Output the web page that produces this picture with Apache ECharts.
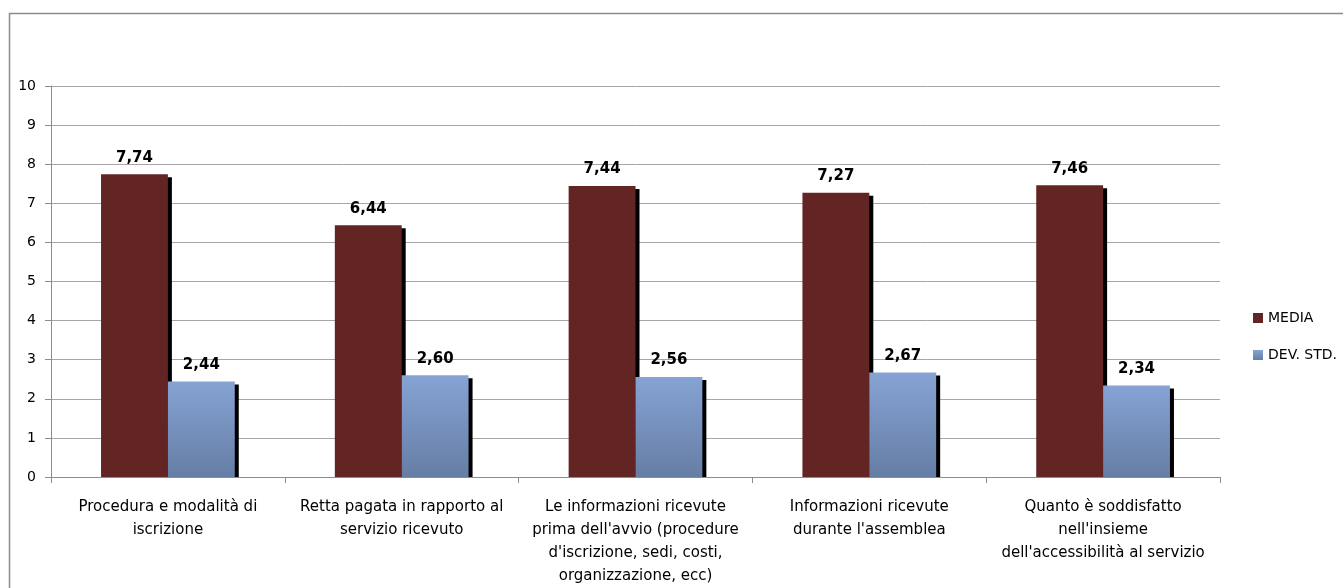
<!DOCTYPE html>
<html>
<head>
<meta charset="utf-8">
<script src="https://cdn.jsdelivr.net/npm/echarts@6/dist/echarts.min.js"></script>
<style>
  html, body { margin: 0; padding: 0; background: #fff; }
  #chart { width: 1343px; height: 588px; }
</style>
</head>
<body>
<div id="chart"></div>
<script>
// Survey items (x axis)
const categories = [
  "Procedura e modalità di\niscrizione",
  "Retta pagata in rapporto al\nservizio ricevuto",
  "Le informazioni ricevute\nprima dell'avvio (procedure\nd'iscrizione, sedi, costi,\norganizzazione, ecc)",
  "Informazioni ricevute\ndurante l'assemblea",
  "Quanto è soddisfatto\nnell'insieme\ndell'accessibilità al servizio"
];
// Mean score and standard deviation per item
const media = [7.74, 6.44, 7.44, 7.27, 7.46];
const devStd = [2.44, 2.60, 2.56, 2.67, 2.34];
const seriesNames = ["MEDIA", "DEV. STD."];

const FONT = "'DejaVu Sans', 'Noto Sans', sans-serif";
const fmt = v => v.toFixed(2).replace('.', ',');

const mediaColor = '#632523';
const devColor = new echarts.graphic.LinearGradient(0, 0, 0, 1, [
  { offset: 0, color: '#86a3d4' },
  { offset: 1, color: '#667ea5' }
]);

// Two side-by-side bars per category, each with a hard black drop shadow
// that stops at the baseline.
const BAR_RATIO = 0.286;
function barRenderer(slot, fill) {
  return function (params, api) {
    const i = api.value(0);
    const v = api.value(1);
    const band = api.size([1, 0])[0];
    const w = band * BAR_RATIO;
    const base = api.coord([i, 0]);
    const top = api.coord([i, v]);
    const x0 = base[0] - w + slot * w;
    const h = base[1] - top[1];
    return {
      type: 'group',
      children: [
        { type: 'rect', shape: { x: x0 + 4, y: top[1] + 3, width: w, height: h - 3 },
          style: { fill: '#000' } },
        { type: 'rect', shape: { x: x0, y: top[1], width: w, height: h },
          style: { fill: fill } },
        { type: 'text', x: x0 + w / 2, y: top[1] - 9,
          style: { text: fmt(v), align: 'center', verticalAlign: 'bottom',
                   fill: '#000', font: 'bold 15px ' + FONT } }
      ]
    };
  };
}

const chart = echarts.init(document.getElementById('chart'), null, { renderer: 'canvas' });
chart.setOption({
  animation: false,
  backgroundColor: '#fff',
  graphic: [{
    type: 'rect', silent: true, z: -1,
    shape: { x: 9.5, y: 13.5, width: 1400, height: 700 },
    style: { fill: 'none', stroke: '#8c8c8c', lineWidth: 1.5 }
  }],
  grid: { left: 51, right: 123, top: 86, bottom: 108, containLabel: false },
  legend: {
    orient: 'vertical', left: 1248, top: 306,
    itemWidth: 10, itemHeight: 10, itemGap: 23, icon: 'rect',
    textStyle: { color: '#000', fontSize: 14, fontFamily: FONT },
    data: seriesNames
  },
  xAxis: {
    type: 'category', data: categories,
    axisLine: { lineStyle: { color: '#8c8c8c', width: 1 } },
    axisTick: { show: true, length: 6, lineStyle: { color: '#8c8c8c' } },
    axisLabel: {
      interval: 0, margin: 19, lineHeight: 23, color: '#000',
      fontSize: 15, fontFamily: FONT
    }
  },
  yAxis: {
    type: 'value', min: 0, max: 10, interval: 1,
    axisLine: { show: true, lineStyle: { color: '#8c8c8c' } },
    axisTick: { show: true, length: 6, lineStyle: { color: '#8c8c8c' } },
    axisLabel: { color: '#000', fontSize: 14, fontFamily: FONT, margin: 15 },
    splitLine: { lineStyle: { color: '#a6a6a6', width: 1 } }
  },
  series: [
    {
      name: seriesNames[0], type: 'custom',
      data: media.map((v, i) => [i, v]),
      encode: { x: 0, y: 1 },
      itemStyle: { color: mediaColor },
      renderItem: barRenderer(0, mediaColor)
    },
    {
      name: seriesNames[1], type: 'custom',
      data: devStd.map((v, i) => [i, v]),
      encode: { x: 0, y: 1 },
      itemStyle: { color: devColor },
      renderItem: barRenderer(1, devColor)
    }
  ]
});
</script>
</body>
</html>
